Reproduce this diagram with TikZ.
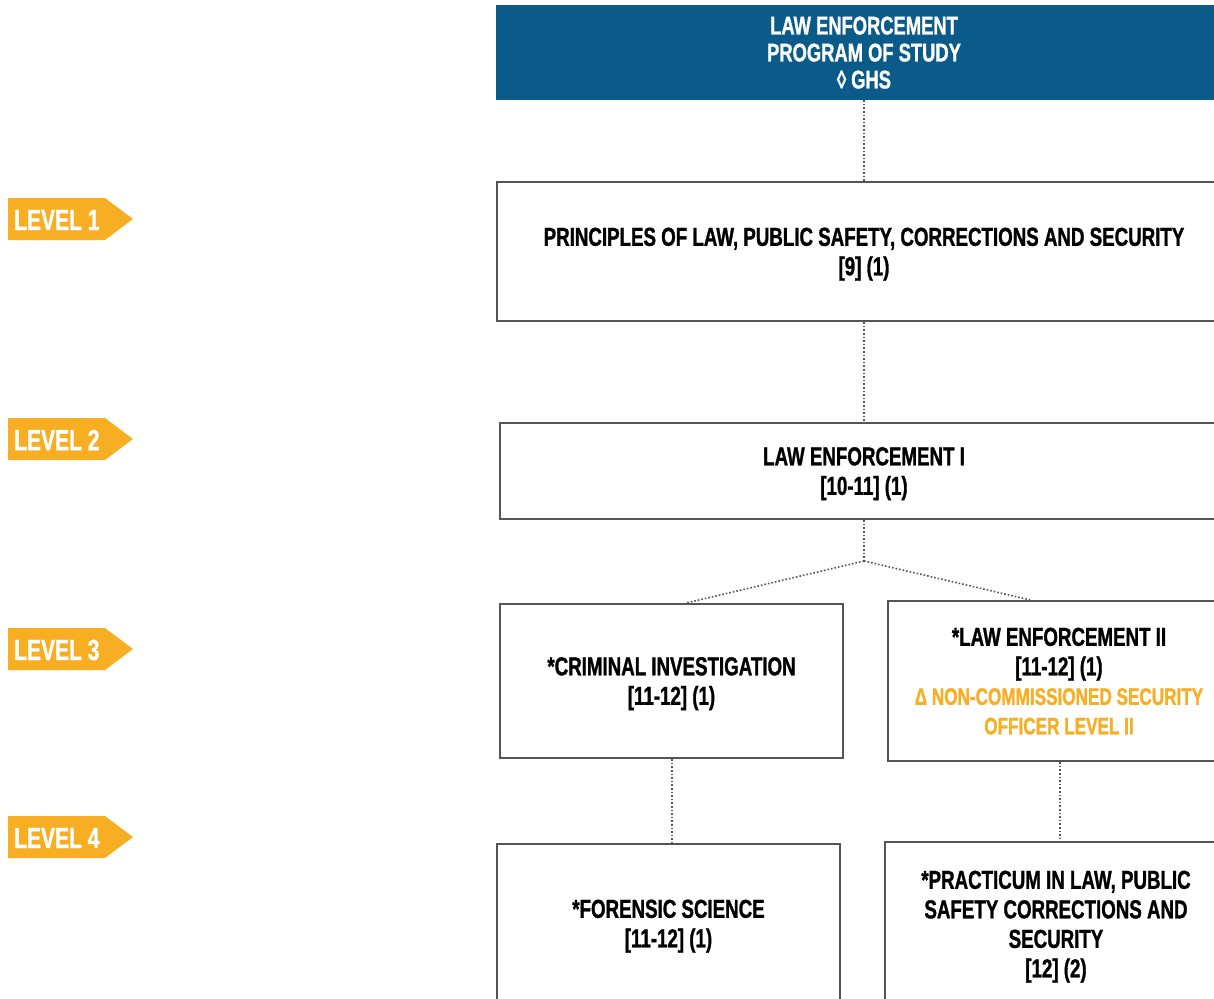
\documentclass[tikz,border=0pt]{standalone}
\usepackage{fontspec}
\setmainfont{Liberation Sans}[FakeStretch=0.72, BoldFont={Liberation Sans Bold}, BoldFeatures={FakeStretch=0.72, FakeBold=1.1}]
\usetikzlibrary{calc}
\definecolor{hdrblue}{HTML}{0B5B8A}
\definecolor{tagorange}{HTML}{F7AE22}
\definecolor{boxgray}{HTML}{555555}
\newcommand{\credtext}[1]{\textcolor{tagorange}{\fontsize{23.8}{29.5}\selectfont #1}}
\tikzset{
  course/.style={draw=boxgray, line width=2.2pt, fill=white, inner sep=0pt, align=center,
    text depth=0pt, font=\fontsize{26}{29.5}\selectfont\bfseries, text=black},
  header/.style={fill=hdrblue, inner sep=0pt, align=center, text depth=0pt,
    font=\fontsize{25.5}{27}\selectfont\bfseries, text=white},
  conn/.style={draw=boxgray, line width=1.6pt, dotted},
  lvltext/.style={text=white, font=\fontsize{29.2}{30}\selectfont\bfseries, inner sep=0pt, anchor=west},
  lvltag/.style={fill=tagorange},
}
\begin{document}
\begin{tikzpicture}[x=1pt,y=-1pt]
\useasboundingbox (0,0) rectangle (1214,998);
\clip (0,0) rectangle (1214,998);
% header
\node[header, minimum width=736pt, minimum height=95pt] (hdr) at (864,52.5)
  {LAW ENFORCEMENT\\PROGRAM OF STUDY\\◊ GHS};
% level 1
\node[course, minimum width=734pt, minimum height=139pt] (b1) at (864,251.5)
  {PRINCIPLES OF LAW, PUBLIC SAFETY, CORRECTIONS AND SECURITY\\\relax [9] (1)};
% level 2
\node[course, minimum width=728pt, minimum height=96pt] (b2) at (864,471)
  {LAW ENFORCEMENT I\\\relax [10-11] (1)};
% level 3
\node[course, minimum width=343pt, minimum height=154pt] (b3a) at (671.5,681)
  {*CRIMINAL INVESTIGATION\\\relax [11-12] (1)};
\node[course, minimum width=342pt, minimum height=160pt] (b3b) at (1059,681)
  {*LAW ENFORCEMENT II\\\relax [11-12] (1)\\\credtext{Δ NON-COMMISSIONED SECURITY}\\\credtext{OFFICER LEVEL II}};
% level 4
\node[course, minimum width=343pt, minimum height=159pt] (b4a) at (668.5,923.5)
  {*FORENSIC SCIENCE\\\relax [11-12] (1)};
\node[course, minimum width=342pt, minimum height=164pt] (b4b) at (1056,924)
  {*PRACTICUM IN LAW, PUBLIC\\SAFETY CORRECTIONS AND\\SECURITY\\\relax [12] (2)};
% connectors
\coordinate (j) at (864,561);
\draw[conn] (hdr.south) -- (b1.north);
\draw[conn] (b1.south) -- (b2.north);
\draw[conn] (b2.south) -- (j);
\draw[conn] (j) -- ([xshift=15pt]b3a.north);
\draw[conn] (j) -- ([xshift=-29pt]b3b.north);
\draw[conn] ([xshift=1pt]b3b.south) -- ([xshift=4pt]b4b.north);
\draw[conn] ([xshift=0.5pt]b3a.south) -- ([xshift=3.5pt]b4a.north);
% level tags
\fill[lvltag] (8,198) -- (105,198) -- (133,219) -- (105,240) -- (8,240) -- cycle;
\node[lvltext] (l1) at (14,220) {LEVEL 1};
\fill[lvltag] (8,418) -- (105,418) -- (133,439) -- (105,460) -- (8,460) -- cycle;
\node[lvltext] (l2) at (14,440) {LEVEL 2};
\fill[lvltag] (8,628) -- (105,628) -- (133,649) -- (105,670) -- (8,670) -- cycle;
\node[lvltext] (l3) at (14,650) {LEVEL 3};
\fill[lvltag] (8,816) -- (105,816) -- (133,837) -- (105,858) -- (8,858) -- cycle;
\node[lvltext] (l4) at (14,838) {LEVEL 4};
\end{tikzpicture}
\end{document}
